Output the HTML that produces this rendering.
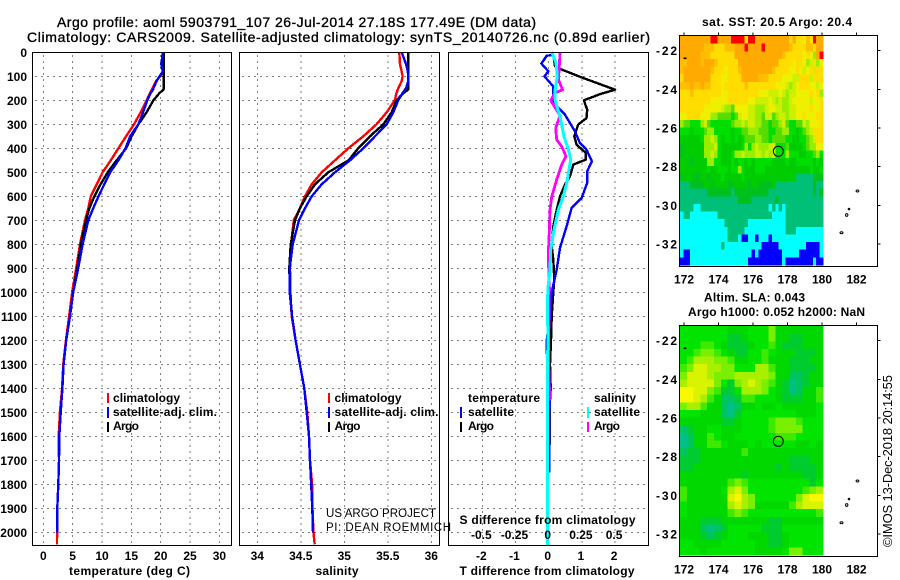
<!DOCTYPE html>
<html lang="en">
<head>
<meta charset="utf-8">
<title>Argo profile 5903791_107</title>
<style>
html,body{margin:0;padding:0;background:#fff;}
svg{display:block;}
text{font-family:"Liberation Sans",sans-serif;fill:#000;}
.b{font-weight:bold;font-size:12px;}
.t{font-size:14px;stroke:#000;stroke-width:.35px;}
.thin{font-size:11.5px;}
.stamp{font-size:13px;}
</style>
</head>
<body>
<svg id="chart" width="900" height="580" viewBox="0 0 900 580" xmlns="http://www.w3.org/2000/svg">
  <rect x="0" y="0" width="900" height="580" fill="#fff"/>
  <text class="t" x="57" y="27" textLength="479">Argo profile: aoml 5903791_107 26-Jul-2014 27.18S 177.49E (DM data)</text>
  <text class="t" x="27" y="42" textLength="623">Climatology: CARS2009. Satellite-adjusted climatology: synTS_20140726.nc (0.89d earlier)</text>
  <g id="gridLayer"></g>
  <g id="heatLayer"></g>
  <g id="lineLayer"></g>
  <g id="axisLayer"></g>

  <text class="b" x="69" y="575" textLength="121">temperature (deg C)</text>
  <text class="b" x="315.5" y="575" textLength="43">salinity</text>
  <text class="b" x="459.5" y="575" textLength="175">T difference from climatology</text>
  <text class="b" x="459.5" y="524" textLength="176">S difference from climatology</text>

  <g>
    <rect x="107" y="393" width="2" height="10" fill="#f00"/>
    <text class="b" x="113" y="402" textLength="67">climatology</text>
    <rect x="107" y="407" width="2" height="11" fill="#00f"/>
    <text class="b" x="113" y="416" textLength="104">satellite-adj. clim.</text>
    <rect x="107" y="422" width="2" height="10" fill="#000"/>
    <text class="b" x="113" y="430" textLength="26">Argo</text>
  </g>
  <g>
    <rect x="328" y="393" width="2" height="10" fill="#f00"/>
    <text class="b" x="334.5" y="402" textLength="67">climatology</text>
    <rect x="328" y="407" width="2" height="11" fill="#00f"/>
    <text class="b" x="334.5" y="416" textLength="104">satellite-adj. clim.</text>
    <rect x="328" y="422" width="2" height="10" fill="#000"/>
    <text class="b" x="334.5" y="430" textLength="26">Argo</text>
  </g>
  <g>
    <text class="b" x="468" y="402" textLength="72">temperature</text>
    <rect x="460" y="407" width="2" height="11" fill="#00f"/>
    <text class="b" x="468" y="416" textLength="46">satellite</text>
    <rect x="460" y="422" width="2" height="10" fill="#000"/>
    <text class="b" x="468" y="430" textLength="26">Argo</text>
    <text class="b" x="594" y="402" textLength="42">salinity</text>
    <rect x="587" y="407" width="2" height="11" fill="#0ff"/>
    <text class="b" x="594" y="416" textLength="46">satellite</text>
    <rect x="587" y="422" width="2" height="10" fill="#f0f"/>
    <text class="b" x="594" y="430" textLength="26">Argo</text>
  </g>

  <text class="thin" x="326" y="517" textLength="110">US ARGO PROJECT</text>
  <text class="thin" x="326" y="531" textLength="125">PI: DEAN ROEMMICH</text>

  <text class="b" x="702" y="26" textLength="150">sat. SST: 20.5 Argo: 20.4</text>
  <text class="b" x="704" y="301.5" textLength="101">Altim. SLA: 0.043</text>
  <text class="b" x="688" y="316" textLength="177">Argo h1000: 0.052 h2000: NaN</text>
  <text class="stamp" transform="translate(892,547) rotate(-90)" textLength="172">©IMOS 13-Dec-2018 20:14:55</text>
</svg>
<script>
// ---------- profile data (depth in metres) ----------
const profileDepths = [0,50,80,100,120,150,155,170,200,250,300,350,400,450,500,550,600,650,700,800,900,1000,1100,1200,1300,1400,1500,1600,1700,1800,1900,2000,2050];
const tempClimatology = [20.35,20.35,20.35,19.9,19.2,18.6,18.5,18.2,17.6,16.6,15.45,14.1,12.8,11.5,10.1,9.1,8.1,7.67,7.1,6.25,5.6,4.9,4.4,3.85,3.4,3.2,2.83,2.62,2.67,2.56,2.39,2.35,2.33];
const tempSatellite = [20.35,20.1,20.35,19.8,19.3,18.75,18.7,18.3,17.7,17,16.2,14.8,14,12.8,11.4,10.4,9.4,8.5,7.67,6.7,5.95,5.1,4.55,3.9,3.45,3.25,2.96,2.73,2.67,2.56,2.39,2.39,null];
const tempArgo = [20.5,20.5,20.5,20.5,20.5,20.5,20.5,19.8,18.75,17.6,16.2,15.05,14.1,12.5,10.97,9.77,8.7,7.84,7.27,6.4,5.8,5.1,4.55,3.9,3.45,3.25,2.96,2.73,2.67,2.56,2.39,2.39,null];
const salClimatology = [35.632,35.64,35.66,35.67,35.66,35.62,35.615,35.6,35.58,35.487,35.37,35.218,35.046,34.893,34.74,34.625,34.548,34.49,34.42,34.387,34.376,34.38,34.395,34.44,34.49,34.54,34.575,34.594,34.606,34.63,34.635,34.645,34.66];
const salSatellite = [35.66,35.71,35.73,35.736,35.735,35.71,35.7,35.67,35.62,35.563,35.487,35.353,35.218,35.065,34.893,34.74,34.625,34.548,34.479,34.407,34.372,34.372,34.4,34.44,34.49,34.54,34.568,34.594,34.606,34.62,34.632,34.64,null];
const salArgo = [35.736,35.736,35.736,35.736,35.736,35.736,35.736,35.68,35.6,35.545,35.448,35.295,35.16,35.05,34.816,34.663,34.568,34.49,34.433,34.384,34.368,34.376,34.4,34.44,34.49,34.54,34.568,34.594,34.606,34.62,34.632,34.64,null];

const diffTDepthsSat = [0,12,14,47,79,100,142,200,232,260,329,378,406,454,496,544,607,649,725,815,906,1000,1100,1200,1250,1300,1400,1450,1500,1750];
const diffTSat = [0.14,0.09,-0.06,-0.22,-0.01,-0.13,0.14,0.14,0.29,0.49,0.79,0.94,1.14,1.3,1.16,1.16,0.99,0.69,0.54,0.34,0.24,0.09,0.04,-0.06,-0.06,-0.01,0.04,0.04,0.02,0.02];
const diffTDepthsArgo = [0,30,58,69,107,156,174,200,239,274,301,350,385,419,447,468,517,551,600,656,725,808,864,947,1000,1100,1200,1300,1400,1450,1700,1750];
const diffTArgo = [0.11,0.16,0.19,0.34,1.04,2.0,1.55,1.06,1.16,1.14,0.89,0.77,0.84,1.12,1.12,0.74,0.64,0.49,0.34,0.24,0.14,0.09,0.14,0.17,0.14,0.09,0.07,0.04,0.06,0.04,0.02,0.02];
const diffSDepthsSat = [0,44,100,156,200,267,350,406,447,503,544,600,656,739,822,906,982,1050,1200,1300,1400,1500,2053];
const diffSSat = [0.023,0.055,0.065,0.048,0.048,0.085,0.115,0.148,0.166,0.148,0.136,0.11,0.073,0.04,0.015,0.01,-0.005,-0.01,-0.005,-0.01,-0.008,-0.01,-0.01];
const diffSDepthsArgo = [0,58,114,156,169,200,218,264,315,364,392,433,468,531,600,656,739,836,906,982,1200,1300,1400,1450];
const diffSArgo = [0.085,0.08,0.073,0.105,0.048,0.015,0.035,0.085,0.053,0.06,0.098,0.13,0.098,0.06,0.023,0.01,0.005,-0.003,0,0.005,0,0,0.005,0.005];

// ---------- tick labels ----------
const depthTicks = [0,100,200,300,400,500,600,700,800,900,1000,1100,1200,1300,1400,1500,1600,1700,1800,1900,2000];
const tempTicks = [0,5,10,15,20,25,30];
const salTicks = [34,34.5,35,35.5,36];
const diffTTicks = [-2,-1,0,1,2];
const diffSTicks = [-0.5,-0.25,0,0.25,0.5];
const lonTicks = [172,174,176,178,180,182];
const latTicks = [-22,-24,-26,-28,-30,-32];

// ---------- SST map: one character per cell (colour class), north to south ----------
const sstColors = {R:'#ff0000',o:'#ffaa00',p:'#ffbf00',q:'#ffdd00',y:'#eef000',l:'#ccf000',m:'#99ee00',n:'#55dd00',g:'#00dd00',h:'#00cc00',e:'#00c020',t:'#00c078',c:'#00ffff',b:'#0000ff'};
const sstRows = [
"oooooo oooRRo oooRRR RqRRoo oooooo ooqoqq ypqRoo",
"oooooo opppqq qpppoo oRoooo Rooooo oopqqq qppqoo",
"oooooo pppqqq qqqqoo oooooo oooooo pqqqqq yqymoR",
"ppoooo pooopq qqqqqo oooooo oooooq qqqyqq ymlqmy",
"pooooo ooopqq qyqqqp oooooo ooopqq qqyyqy lyqlqq",
"qooooo oooqqq yyqqqq ooooop ppqqqq yyyllq qqlqqq",
"pppopp oppqqq yqqqqq qpqqqq qqqqyy ylmlyq qqyyly",
"qqqpqq qqqqqq yyqqqq qqqqqy yyllly lmllyy yyqyqm",
"qqqqqq qqqyyy yyqqqq qqyyll llylml mmlyyy yylyyq",
"qqqqqq qyyyyy lmmnyy yyllmm mlyyll mmllyy yyqyyq",
"yyqqqq yyymmn nnngnl yyllmm nllnml lmllyy qyyyqq",
"mnnggg mlnggg gggnmm lmllmm nngnnm lnggnn lmyyyq",
"ggghgg gnmmgg ggghgg nnmmmn nnggnn mmgghg nmlqqq",
"hhhhhh gmmlmg hgghgh gnnnmm nngnnn ngghhg gnmlqq",
"ehhhhh hmmmlg hhhhhh gmgmlm mmllgg gnhhhh gnmmyy",
"ehhhhh hmmlmg hhhgmm lmmmll mlmlgg gmgggh hggnmg",
"hhhehh hhmmgg hhhghg ghghgg ggghhh hghhgg ggghgh",
"hhhhhh hhghhg gghggm ghhhgg ghhhhh hhhhhh hhghhg",
"ehhhee hhehhh ghhhhh ghhhhh hhhhhh hhhhtt ttthee",
"ttteee ehhehh hheehh hhehhe eeehtt tttttt tttett",
"tttttt tteeee eeetee eeeeee eetttt tttttt tttete",
"tttttt tttttt ttttte eeettt ttttet tttttt tttttt",
"ttttcc tttttt tttttt tttttt ttctct cttttt tttttt",
"cttccc ccccct tttttt tttttt tttccc cttttt tttttt",
"cccccc cccccc cttttt ttcccc cccccc cttttt tttttt",
"cccccc cccccc cctttt tccccc cccccc ctttcc cccccc",
"cccccc cccccc cctttc bbccbc ccbccc cccccc cccccc",
"cccccc cccccc tccccc cccccc bbbbbc cccccc cbbbbc",
"cbbccc cccccc cccccc cccbcb bbbbbb cccccb bbbbbc",
"bbbccc cccccc cccccc ccbbbb bbbbbb cbbbbb bbbcbb"
];

// ---------- SLA map: one digit per cell (low 0 to high 9), north to south ----------
const slaColors = ['#00c088','#00c460','#00cc30','#00d800','#00e400','#40ea00','#78f000','#a8f000','#d8f400','#f8f800'];
const slaRows = [
"444 444 433 344 463 333 333",
"444 444 422 344 463 322 333",
"444 554 322 234 453 222 333",
"445 665 432 244 543 332 223",
"457 776 653 344 533 322 233",
"568 877 664 447 753 322 223",
"688 876 667 777 763 311 233",
"788 886 426 787 653 201 233",
"998 865 224 777 643 201 335",
"998 753 112 554 443 222 335",
"677 533 101 334 334 333 334",
"444 333 102 444 444 443 334",
"333 333 223 444 456 665 444",
"123 344 333 444 456 666 444",
"013 354 334 444 445 554 444",
"013 355 433 343 444 443 343",
"122 333 333 533 333 333 333",
"222 333 333 333 333 322 233",
"223 333 333 333 332 322 223",
"333 333 333 233 333 333 223",
"333 333 356 544 444 444 424",
"533 333 478 644 444 444 567",
"533 333 389 764 444 446 899",
"433 333 378 763 333 357 888",
"433 333 356 544 444 444 445",
"333 222 333 333 322 333 333",
"333 101 244 444 222 444 444",
"333 212 344 433 322 344 444",
"443 333 444 443 322 344 444",
"444 344 444 443 333 466 444"
];

// ---------- scales ----------
const yDepth = d => 52.3 + 0.24 * d;
const xTemp = v => 43.3 + 5.87 * v;
const xSal = v => 257.3 + 87 * (v - 34);
const xDT = v => 548.7 + 33.2 * v;
const xDS = v => 548.7 + 132.8 * v;
const xLon = v => 684 + 17.25 * (v - 172);

const NS = 'http://www.w3.org/2000/svg';
const gridLayer = document.getElementById('gridLayer');
const heatLayer = document.getElementById('heatLayer');
const lineLayer = document.getElementById('lineLayer');
const axisLayer = document.getElementById('axisLayer');

function makeLine(parent, x1, y1, x2, y2, dashed) {
  const el = document.createElementNS(NS, 'line');
  
  
  el.setAttribute('x1', x1);
  el.setAttribute('y1', y1);
  el.setAttribute('x2', x2);
  el.setAttribute('y2', y2);
  el.setAttribute('stroke', '#000');
  el.setAttribute('stroke-width', '1');
  el.setAttribute('shape-rendering', 'crispEdges');
  if (dashed) el.setAttribute('stroke-dasharray', '1 5');
  parent.appendChild(el);
}

function makeLabel(x, y, str, anchor, fitWidth) {
  const el = document.createElementNS(NS, 'text');
  
  
  el.setAttribute('class', 'b');
  el.setAttribute('x', x);
  el.setAttribute('y', y);
  el.setAttribute('text-anchor', anchor);
  if (fitWidth) el.setAttribute('textLength', fitWidth);
  el.textContent = str;
  axisLayer.appendChild(el);
}

function makeFrame(x, y, w, h) {
  const el = document.createElementNS(NS, 'rect');
  
  
  el.setAttribute('x', x);
  el.setAttribute('y', y);
  el.setAttribute('width', w);
  el.setAttribute('height', h);
  el.setAttribute('fill', 'none');
  el.setAttribute('stroke', '#000');
  el.setAttribute('stroke-width', '1');
  el.setAttribute('shape-rendering', 'crispEdges');
  axisLayer.appendChild(el);
}

function drawSeries(name, depths, values, xFn, color, width) {
  const pts = [];
  values.forEach((v, i) => {
    if (v !== null) pts.push(xFn(v).toFixed(1) + ',' + yDepth(depths[i]).toFixed(1));
  });
  const el = document.createElementNS(NS, 'polyline');
  
  
  el.setAttribute('points', pts.join(' '));
  el.setAttribute('fill', 'none');
  el.setAttribute('stroke', color);
  el.setAttribute('stroke-width', width);
  el.setAttribute('stroke-linejoin', 'round');
  el.setAttribute('shape-rendering', 'crispEdges');
  lineLayer.appendChild(el);
}

// ---------- profile panels ----------
const panels = [[32.5, 231.5], [239.5, 439.5], [448.5, 648.5]];
const panelTop = 52.5, panelBottom = 545.5;

panels.forEach(p => {
  depthTicks.forEach(d => {
    makeLine(gridLayer, p[0] + 3, yDepth(d), p[1], yDepth(d), true);
  });
});
tempTicks.forEach(v => {
  makeLine(gridLayer, xTemp(v), panelTop + 3, xTemp(v), panelBottom, true);
  makeLabel(xTemp(v), 560, String(v), 'middle');
});
salTicks.forEach(v => {
  makeLine(gridLayer, xSal(v), panelTop + 3, xSal(v), panelBottom, true);
  makeLabel(xSal(v), 560, String(v), 'middle');
});
diffTTicks.forEach(v => {
  makeLine(gridLayer, xDT(v), panelTop + 3, xDT(v), panelBottom, true);
  makeLabel(xDT(v) - 1, 560, String(v), 'middle');
});
diffSTicks.forEach(v => {
  makeLabel(xDS(v) - 1, 539, String(v), 'middle');
});
depthTicks.forEach(d => {
  makeLabel(27, yDepth(d) + 4.5, String(d), 'end');
});
panels.forEach(p => makeFrame(p[0], panelTop, p[1] - p[0], panelBottom - panelTop));

drawSeries('temperature-climatology-line', profileDepths, tempClimatology, xTemp, '#ff0000', 2.4);
drawSeries('temperature-argo-line', profileDepths, tempArgo, xTemp, '#000000', 2.4);
drawSeries('temperature-satellite-line', profileDepths, tempSatellite, xTemp, '#0000ff', 2.4);
drawSeries('salinity-climatology-line', profileDepths, salClimatology, xSal, '#ff0000', 2.4);
drawSeries('salinity-argo-line', profileDepths, salArgo, xSal, '#000000', 2.4);
drawSeries('salinity-satellite-line', profileDepths, salSatellite, xSal, '#0000ff', 2.4);
drawSeries('t-difference-argo-line', diffTDepthsArgo, diffTArgo, xDT, '#000000', 2.4);
drawSeries('t-difference-satellite-line', diffTDepthsSat, diffTSat, xDT, '#0000ff', 2.4);
drawSeries('s-difference-argo-line', diffSDepthsArgo, diffSArgo, xDS, '#ff00ff', 2.8);
drawSeries('s-difference-satellite-line', diffSDepthsSat, diffSSat, xDS, '#00ffff', 3);

// ---------- maps ----------
function drawHeat(rows, colorOf, top, height, name) {
  const left = 680, width = 143;
  rows.forEach((raw, r) => {
    const row = raw.replace(/ /g, '');
    const cw = width / row.length, ch = height / rows.length;
    for (let c = 0; c < row.length; c++) {
      const el = document.createElementNS(NS, 'rect');
      
      
      el.setAttribute('x', (left + c * cw).toFixed(2));
      el.setAttribute('y', (top + r * ch).toFixed(2));
      el.setAttribute('width', (cw + 0.3).toFixed(2));
      el.setAttribute('height', (ch + 0.3).toFixed(2));
      el.setAttribute('fill', colorOf(row[c]));
      el.setAttribute('shape-rendering', 'crispEdges');
      heatLayer.appendChild(el);
    }
  });
}
drawHeat(sstRows, k => sstColors[k], 36, 229, 'sst-cell');
drawHeat(slaRows, k => slaColors[Number(k)], 326, 229, 'sla-cell');

function drawMapFrame(top) {
  const bottom = top + 231;
  const yLat = v => top + 15.2 + 19.32 * (-22 - v);
  lonTicks.forEach(v => {
    makeLine(axisLayer, xLon(v), top - 3, xLon(v), top, false);
    makeLabel(xLon(v), bottom + 17, String(v), 'middle');
  });
  latTicks.forEach(v => {
    makeLine(axisLayer, 877.5, yLat(v), 880.5, yLat(v), false);
    makeLabel(677, yLat(v) + 4.5, String(v), 'end', 21);
  });
  makeFrame(679.5, top, 198, 231);

  const marker = document.createElementNS(NS, 'circle');
  
  
  marker.setAttribute('cx', 778.3);
  marker.setAttribute('cy', top + 115.8);
  marker.setAttribute('r', 5);
  marker.setAttribute('fill', 'none');
  marker.setAttribute('stroke', '#000');
  marker.setAttribute('stroke-width', '1');
  axisLayer.appendChild(marker);

  const islandSpots = [[857.5, 155.5, 1.4, 1], [846.7, 179.5, 1.2, 1.4], [849, 173.5, 0.8, 0.8], [841.5, 197.2, 1.5, 0.9], [685, 22.8, 1.2, 0.4]];
  islandSpots.forEach(s => {
    const isl = document.createElementNS(NS, 'ellipse');
    
    
    isl.setAttribute('cx', s[0]);
    isl.setAttribute('cy', top + s[1]);
    isl.setAttribute('rx', s[2]);
    isl.setAttribute('ry', s[3]);
    isl.setAttribute('fill', 'none');
    isl.setAttribute('stroke', '#000');
    isl.setAttribute('stroke-width', '1');
    axisLayer.appendChild(isl);
  });
}
drawMapFrame(35.5);
drawMapFrame(325.5);
</script>
</body>
</html>
